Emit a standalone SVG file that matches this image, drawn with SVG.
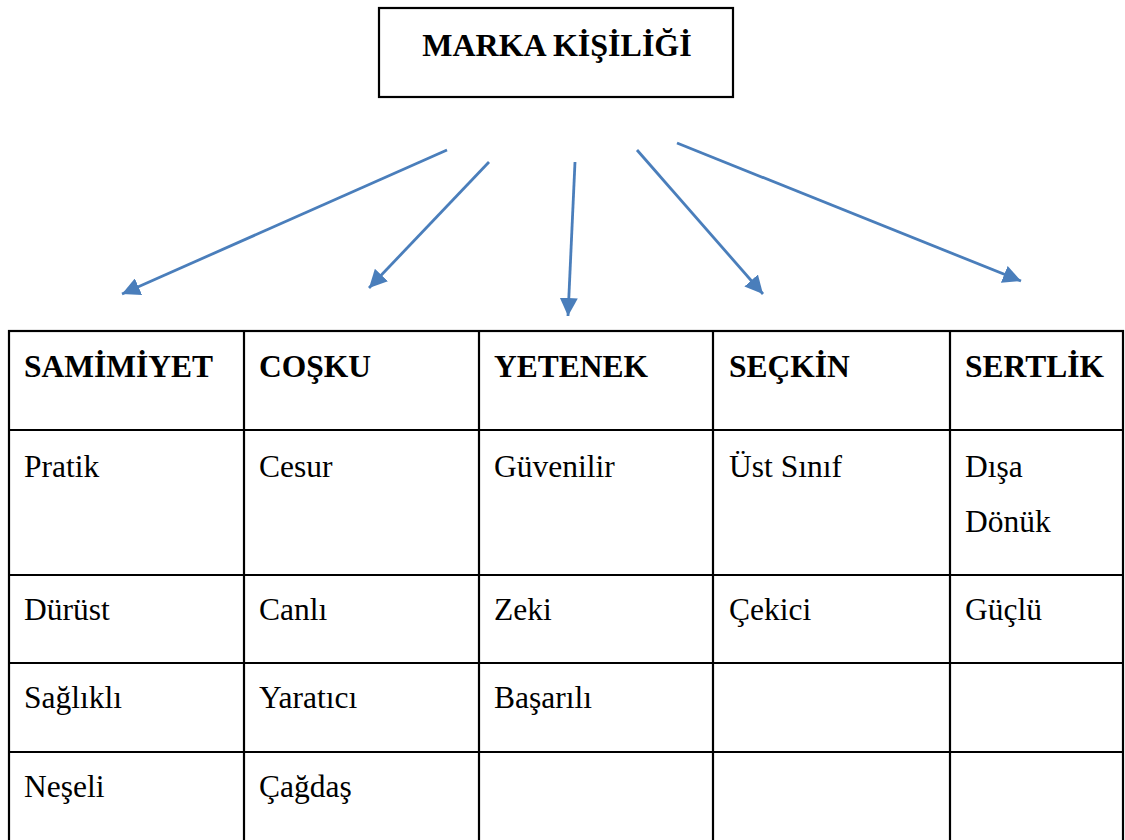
<svg xmlns="http://www.w3.org/2000/svg" width="1125" height="840" viewBox="0 0 1125 840">
  <style>
    .box { fill: #ffffff; stroke: #000000; stroke-width: 2.2; }
    .grid { stroke: #000000; stroke-width: 2.2; fill: none; }
    .title { font-family: "Liberation Serif", "Times New Roman", serif; font-size: 32px; font-weight: bold; fill: #000000; }
    .head { font-family: "Liberation Serif", "Times New Roman", serif; font-size: 31.5px; font-weight: bold; fill: #000000; }
    .cell { font-family: "Liberation Serif", "Times New Roman", serif; font-size: 31.5px; fill: #000000; }
    .arrow { stroke: #4a7ebb; stroke-width: 2.8; fill: none; marker-end: url(#head); }
  </style>
  <defs>
    <marker id="head" markerUnits="userSpaceOnUse" markerWidth="19" markerHeight="18" refX="18" refY="9" orient="auto">
      <path d="M0,0 L18,9 L0,18 Z" fill="#4a7ebb"/>
    </marker>
  </defs>
  <rect width="1125" height="840" fill="#ffffff"/>

  <!-- root node -->
  <g id="node-marka-kisiligi">
    <rect class="box" x="379" y="8" width="354" height="89"/>
    <text class="title" x="557" y="56" text-anchor="middle">MARKA KİŞİLİĞİ</text>
  </g>

  <!-- arrows from the root to each dimension -->
  <g id="connectors">
    <line class="arrow" x1="447" y1="150" x2="122" y2="294"/>
    <line class="arrow" x1="489" y1="162" x2="369" y2="288"/>
    <line class="arrow" x1="575" y1="162" x2="568" y2="316"/>
    <line class="arrow" x1="637" y1="150" x2="763" y2="294"/>
    <line class="arrow" x1="677" y1="143" x2="1021" y2="281"/>
  </g>

  <!-- dimension table -->
  <g id="table-grid">
    <rect class="grid" x="9" y="331" width="1114" height="520"/>
    <line class="grid" x1="244" y1="331" x2="244" y2="840"/>
    <line class="grid" x1="479" y1="331" x2="479" y2="840"/>
    <line class="grid" x1="713" y1="331" x2="713" y2="840"/>
    <line class="grid" x1="950" y1="331" x2="950" y2="840"/>
    <line class="grid" x1="9" y1="430" x2="1123" y2="430"/>
    <line class="grid" x1="9" y1="575" x2="1123" y2="575"/>
    <line class="grid" x1="9" y1="663" x2="1123" y2="663"/>
    <line class="grid" x1="9" y1="752" x2="1123" y2="752"/>
  </g>

  <g id="node-samimiyet">
    <text class="head" x="24" y="377">SAMİMİYET</text>
    <text class="cell" x="24" y="477">Pratik</text>
    <text class="cell" x="24" y="620">Dürüst</text>
    <text class="cell" x="24" y="708">Sağlıklı</text>
    <text class="cell" x="24" y="797">Neşeli</text>
  </g>

  <g id="node-cosku">
    <text class="head" x="259" y="377">COŞKU</text>
    <text class="cell" x="259" y="477">Cesur</text>
    <text class="cell" x="259" y="620">Canlı</text>
    <text class="cell" x="259" y="708">Yaratıcı</text>
    <text class="cell" x="259" y="797">Çağdaş</text>
  </g>

  <g id="node-yetenek">
    <text class="head" x="494" y="377">YETENEK</text>
    <text class="cell" x="494" y="477">Güvenilir</text>
    <text class="cell" x="494" y="620">Zeki</text>
    <text class="cell" x="494" y="708">Başarılı</text>
  </g>

  <g id="node-seckin">
    <text class="head" x="729" y="377">SEÇKİN</text>
    <text class="cell" x="729" y="477">Üst Sınıf</text>
    <text class="cell" x="729" y="620">Çekici</text>
  </g>

  <g id="node-sertlik">
    <text class="head" x="965" y="377">SERTLİK</text>
    <text class="cell" x="965" y="477">Dışa</text>
    <text class="cell" x="965" y="532">Dönük</text>
    <text class="cell" x="965" y="620">Güçlü</text>
  </g>
</svg>
